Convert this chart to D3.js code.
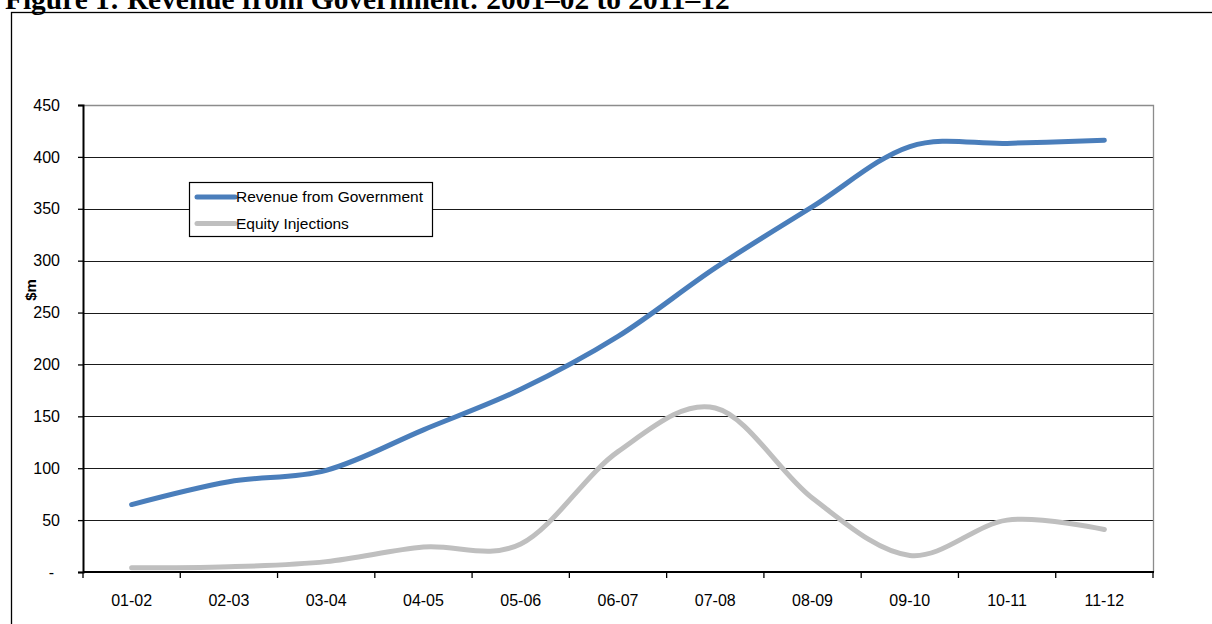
<!DOCTYPE html>
<html>
<head>
<meta charset="utf-8">
<script src="https://cdn.jsdelivr.net/npm/d3@7"></script>
<style>
html,body{margin:0;padding:0;background:#fff;overflow:hidden;}
svg{display:block;}
</style>
</head>
<body>
<svg id="chart" width="1212" height="624"></svg>
<script>
const titleText = "Figure 1: Revenue from Government: 2001–02 to 2011–12";
const categories = ["01-02","02-03","03-04","04-05","05-06","06-07","07-08","08-09","09-10","10-11","11-12"];
const revenue = [65, 87, 98, 137, 176, 227, 293, 352, 410, 413, 416];
const equity = [4, 5, 10, 24, 27, 116, 158, 71, 16, 50, 41];
const yTicks = [0, 50, 100, 150, 200, 250, 300, 350, 400, 450];
const seriesNames = ["Revenue from Government", "Equity Injections"];
const seriesColors = ["#4A7EBB", "#BFBFBF"];

(function () {
const svg = d3.select("#chart");
const pLeft = 83, pRight = 1153, pTop = 105, pBottom = 572;

// outer frame
svg.append("rect").attr("x", 11.5).attr("y", 12.5).attr("width", 1400).attr("height", 800)
  .attr("fill", "none").attr("stroke", "#000").attr("stroke-width", 1.3);

// title (cropped at the top, as in the reference)
const title = svg.append("text").attr("x", 5).attr("y", 9)
  .attr("font-family", "Liberation Serif, Times New Roman, serif")
  .attr("font-weight", "bold").attr("font-size", 24).text(titleText);
const tw = title.node().getComputedTextLength();
title.attr("font-size", 24 * 725 / tw);

const x = d3.scaleBand().domain(categories).range([pLeft, pRight]);
const y = d3.scaleLinear().domain([0, 450]).range([pBottom, pTop]);

// gridlines
svg.append("g").selectAll("line").data(yTicks.filter(d => d > 0 && d < 450)).join("line")
  .attr("x1", pLeft).attr("x2", pRight)
  .attr("y1", d => Math.round(y(d)) + 0.5).attr("y2", d => Math.round(y(d)) + 0.5)
  .attr("stroke", "#1a1a1a").attr("stroke-width", 1.2);

// plot border top/right
svg.append("path")
  .attr("d", `M${pLeft},${Math.round(y(450)) + 0.5}H${pRight + 0.5}V${pBottom}`)
  .attr("fill", "none").attr("stroke", "#8c8c8c").attr("stroke-width", 1.3);

// y axis
const yAxis = d3.axisLeft(y).tickValues(yTicks).tickSize(5).tickPadding(18)
  .tickFormat(d => d === 0 ? "-" : d);
const gy = svg.append("g").attr("transform", `translate(${pLeft},0)`).call(yAxis);
gy.select(".domain").attr("stroke", "#000").attr("stroke-width", 2);
gy.selectAll(".tick line").attr("stroke", "#000").attr("stroke-width", 1.3);
gy.selectAll("text").attr("font-family", "Liberation Sans, Arial, sans-serif")
  .attr("font-size", 16).attr("fill", "#000");
gy.selectAll(".tick").filter(d => d === 0).select("text").attr("x", -29);

// x axis
const boundaries = categories.map(c => x(c)).concat([pRight]);
svg.append("line").attr("x1", pLeft).attr("x2", pRight + 1).attr("y1", pBottom).attr("y2", pBottom)
  .attr("stroke", "#000").attr("stroke-width", 2.2);
svg.append("g").selectAll("line").data(boundaries).join("line")
  .attr("x1", d => d).attr("x2", d => d).attr("y1", pBottom).attr("y2", pBottom + 6)
  .attr("stroke", "#000").attr("stroke-width", 1.3);
svg.append("g").selectAll("text").data(categories).join("text")
  .attr("x", d => x(d) + x.bandwidth() / 2).attr("y", 606)
  .attr("text-anchor", "middle")
  .attr("font-family", "Liberation Sans, Arial, sans-serif").attr("font-size", 16)
  .text(d => d);

// y title
svg.append("text").attr("transform", "translate(36,290) rotate(-90)")
  .attr("text-anchor", "middle").attr("font-family", "Liberation Sans, Arial, sans-serif")
  .attr("font-weight", "bold").attr("font-size", 15).text("$m");

// lines
const line = d3.line()
  .x((d, i) => x(categories[i]) + x.bandwidth() / 2)
  .y(d => y(d))
  .curve(d3.curveCardinal.tension(0));
[revenue, equity].forEach((s, i) => {
  svg.append("path").datum(s).attr("d", line).attr("fill", "none")
    .attr("stroke", seriesColors[i]).attr("stroke-width", 5)
    .attr("stroke-linecap", "round").attr("stroke-linejoin", "round");
});

// legend
const lg = svg.append("g");
lg.append("rect").attr("x", 189.5).attr("y", 182.5).attr("width", 243).attr("height", 54)
  .attr("fill", "#fff").attr("stroke", "#000").attr("stroke-width", 1.2);
seriesNames.forEach((n, i) => {
  const ly = 197 + i * 26.5;
  lg.append("line").attr("x1", 197).attr("x2", 235).attr("y1", ly).attr("y2", ly)
    .attr("stroke", seriesColors[i]).attr("stroke-width", 5).attr("stroke-linecap", "round");
  lg.append("text").attr("x", 236).attr("y", ly + 5)
    .attr("font-family", "Liberation Sans, Arial, sans-serif").attr("font-size", 15.5)
    .text(n);
});
})();
</script>
</body>
</html>
